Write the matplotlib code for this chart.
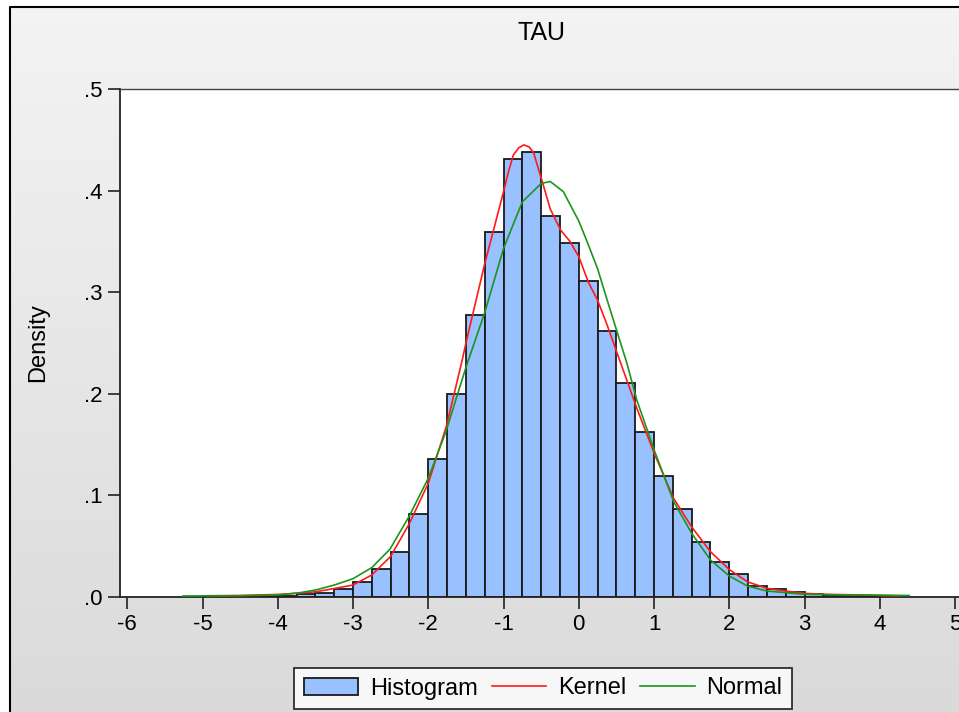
import numpy as np
import matplotlib.pyplot as plt
from matplotlib.lines import Line2D

plt.rcParams['font.family'] = ['Liberation Sans', 'DejaVu Sans']
plt.rcParams['axes.unicode_minus'] = False

# histogram: left edges (width 0.25) and densities
bin_left = np.arange(-5.0, 4.0, 0.25)
hist_density = [0.0005, 0.0005, 0.0005, 0.0008, 0.0012, 0.0025, 0.0043, 0.0076,
                0.0144, 0.0276, 0.044, 0.0814, 0.136, 0.1998, 0.278, 0.3595,
                0.431, 0.438, 0.375, 0.348, 0.311, 0.2615, 0.211, 0.162,
                0.119, 0.0863, 0.0545, 0.0348, 0.0226, 0.0108, 0.0082, 0.005,
                0.003, 0.0015, 0.001, 0.001]

# kernel density
kern_x = [-4.94, -4.5, -4.0, -3.74, -3.49, -3.24, -3.0, -2.75, -2.5, -2.25,
          -2.0, -1.76, -1.55, -1.5, -1.25, -1.0, -0.93, -0.87, -0.8, -0.73,
          -0.66, -0.6, -0.49, -0.38, -0.24, -0.117, 0.0, 0.126, 0.25, 0.37,
          0.5, 0.77, 1.01, 1.26, 1.5, 1.75, 2.0, 2.24, 2.5, 2.74,
          3.0, 3.3, 3.9, 4.24]
kern_y = [0.0012, 0.0015, 0.0025, 0.0036, 0.0052, 0.0085, 0.0118, 0.0217, 0.040, 0.0725,
          0.112, 0.168, 0.233, 0.25, 0.328, 0.399, 0.42, 0.435, 0.442, 0.445,
          0.443, 0.437, 0.41, 0.382, 0.361, 0.35, 0.335, 0.31, 0.292, 0.269,
          0.242, 0.186, 0.14, 0.097, 0.069, 0.0446, 0.027, 0.015, 0.0085, 0.0059,
          0.0036, 0.0026, 0.0018, 0.0012]

# fitted normal density
norm_x = [-5.26, -4.5, -4.0, -3.7, -3.49, -3.24, -3.0, -2.75, -2.51, -2.25,
          -2.0, -1.765, -1.5, -1.25, -1.0, -0.75, -0.5, -0.38, -0.206, 0.0,
          0.125, 0.25, 0.37, 0.5, 0.64, 0.77, 1.01, 1.26, 1.5, 1.75,
          2.0, 2.24, 2.5, 2.74, 3.0, 3.5, 4.39]
norm_y = [0.001, 0.0012, 0.002, 0.0043, 0.007, 0.012, 0.018, 0.029, 0.047, 0.08,
          0.117, 0.163, 0.226, 0.28, 0.343, 0.389, 0.407, 0.409, 0.399, 0.37,
          0.347, 0.323, 0.294, 0.263, 0.23, 0.194, 0.143, 0.094, 0.0627, 0.0364,
          0.0207, 0.0108, 0.0059, 0.0043, 0.0027, 0.002, 0.0015]

x_ticks = np.arange(-6, 6)
y_ticks = [0.0, 0.1, 0.2, 0.3, 0.4, 0.5]

W, H = 959, 712
fig = plt.figure(figsize=(W / 100, H / 100), dpi=100)
fig.patch.set_facecolor('white')

# grey gradient panel behind everything
bg = fig.add_axes([0, 0, 1, 1], zorder=0)
grad = np.linspace(0.955, 0.855, 256).reshape(-1, 1)
bg.imshow(np.dstack([grad, grad, grad]), aspect='auto', extent=[9.5, W + 5, H + 5, 7],
          interpolation='bilinear')
bg.set_xlim(0, W)
bg.set_ylim(H, 0)
bg.plot([9.5, 9.5, W + 5], [H + 5, 7, 7], color='black', lw=1.5)
bg.axis('off')

# main plot area (right edge runs off the figure like the original)
ax_l, ax_r = 120, 975
ax_top, ax_bot = 89, 597
ax = fig.add_axes([ax_l / W, 1 - ax_bot / H, (ax_r - ax_l) / W, (ax_bot - ax_top) / H], zorder=1)
ax.set_facecolor('white')
px_per_unit = 75.25
x0 = -6 - 7.3 / px_per_unit
ax.set_xlim(x0, x0 + (ax_r - ax_l) / px_per_unit)
ax.set_ylim(0, 0.5)

ax.bar(bin_left, hist_density, width=0.25, align='edge', color='#99c0ff',
       edgecolor='#1a1a1a', linewidth=1.3, zorder=2)
ax.plot(kern_x, kern_y, color='#ff1a1a', lw=1.2, zorder=3)
ax.plot(norm_x, norm_y, color='#1a961a', lw=1.2, zorder=3)

ax.set_xticks(x_ticks)
ax.set_xticklabels([str(v) for v in x_ticks])
ax.set_yticks(y_ticks)
ax.set_yticklabels([('%.1f' % v).lstrip('0') for v in y_ticks])
ax.tick_params(direction='out', length=8.5, width=1.2, color='#222222',
               labelsize=16, pad=4)

for s in ['left', 'bottom']:
    ax.spines[s].set_color('#222222')
    ax.spines[s].set_linewidth(1.3)
ax.spines['top'].set_color('#444444')
ax.spines['top'].set_linewidth(1.0)
ax.spines['right'].set_visible(False)

ax.set_ylabel('Density', fontsize=17, labelpad=25)
fig.text(541 / W, 1 - 33 / H, 'TAU', ha='center', va='center', fontsize=18)

handles = [plt.Rectangle((0, 0), 1, 1, facecolor='#99c0ff', edgecolor='#1a1a1a', lw=1.3),
           Line2D([], [], color='#ff1a1a', lw=1.2),
           Line2D([], [], color='#1a961a', lw=1.2)]
leg = fig.legend(handles, ['Histogram', 'Kernel', 'Normal'], ncol=3,
                 loc='center', bbox_to_anchor=(543 / W, 1 - 688.5 / H),
                 fontsize=17, frameon=True, fancybox=False, edgecolor='black',
                 handlelength=2.3, handleheight=0.75, handletextpad=0.5,
                 columnspacing=0.6, borderpad=0.4, borderaxespad=0)
leg.get_frame().set_linewidth(1.3)
leg.set_zorder(5)

fig.savefig('out.png', dpi=100)
